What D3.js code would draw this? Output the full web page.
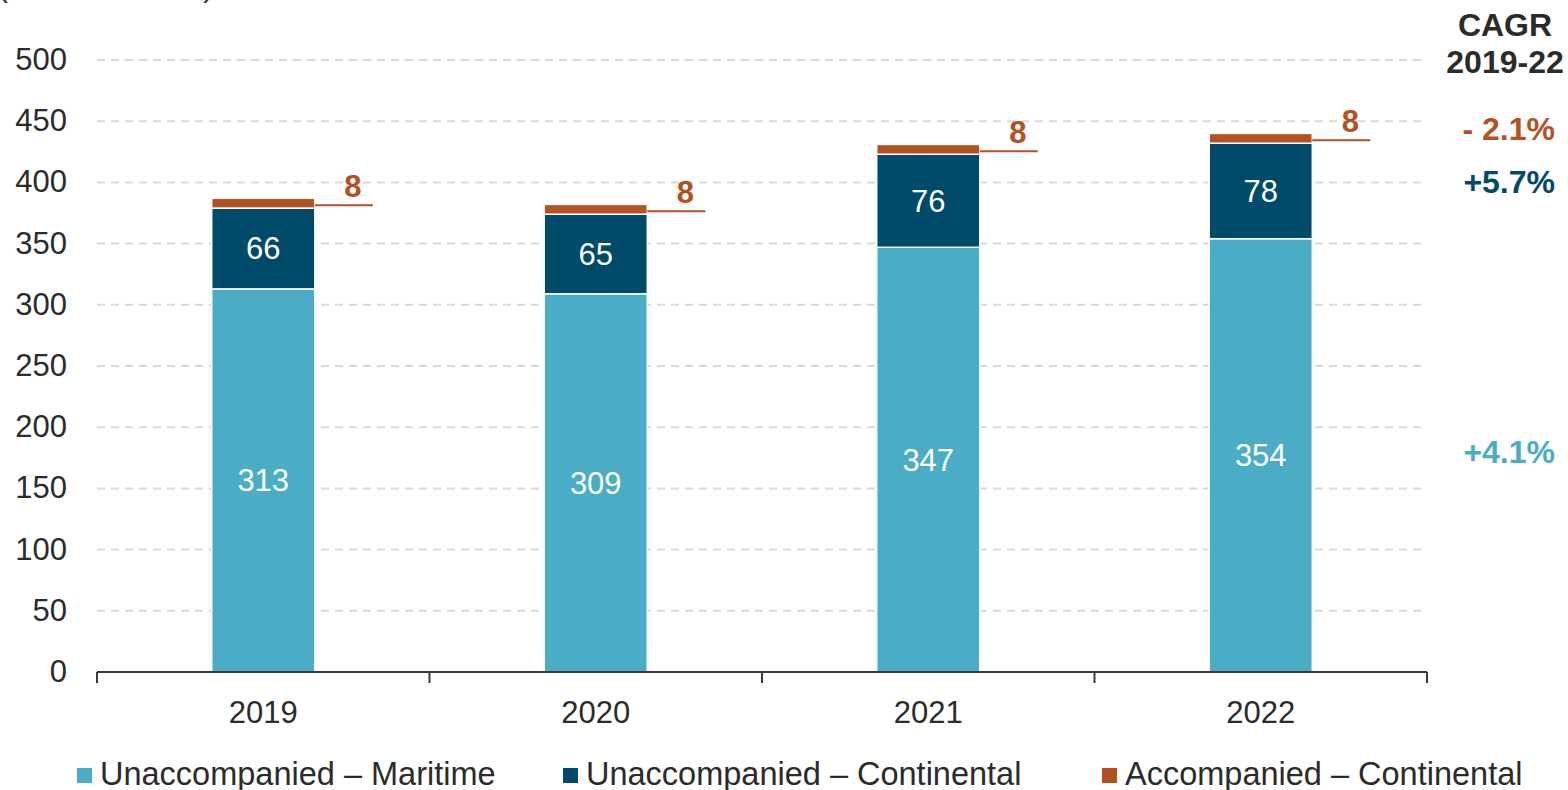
<!DOCTYPE html>
<html>
<head>
<meta charset="utf-8">
<script src="https://cdn.jsdelivr.net/npm/d3@7"></script>
<style>
  html, body { margin: 0; padding: 0; background: #fff; }
  svg { display: block; font-family: "Liberation Sans", Arial, Helvetica, sans-serif; }
</style>
</head>
<body>
<svg id="chart" width="1568" height="790"></svg>
<script>
// Volumes by year, in thousand units
const years = ["2019", "2020", "2021", "2022"];
const maritime = [313, 309, 347, 354];
const continental = [66, 65, 76, 78];
const accompanied = [8, 8, 8, 8];

const seriesNames = ["Unaccompanied – Maritime", "Unaccompanied – Continental", "Accompanied – Continental"];
const yTicks = [0, 50, 100, 150, 200, 250, 300, 350, 400, 450, 500];

// CAGR 2019-22 per series
const cagrHeader = ["CAGR", "2019-22"];
const cagrLabels = ["+4.1%", "+5.7%", "- 2.1%"];

const colors = ["#4BACC6", "#004A6A", "#B5501F"];
const textColor = "#2B2B2B";

const svg = d3.select("#chart");
const x0 = 97, x1 = 1427, yBase = 672, yTop = 60;

const x = d3.scaleBand().domain(years).range([x0, x1]).paddingInner(0).paddingOuter(0);
const y = d3.scaleLinear().domain([0, 500]).range([yBase, yTop]);
const barW = x.bandwidth() * 0.31;

// unit caption, top edge
svg.append("text")
  .attr("x", -2).attr("y", -3)
  .attr("font-size", 30).attr("fill", textColor)
  .text("(thousand units)");

// horizontal dashed grid
svg.append("g")
  .selectAll("line")
  .data(yTicks.filter(d => d > 0))
  .join("line")
  .attr("x1", x0).attr("x2", x1)
  .attr("y1", d => y(d)).attr("y2", d => y(d))
  .attr("stroke", "#D9D9D9").attr("stroke-width", 2)
  .attr("stroke-dasharray", "8,6");

// y tick labels
svg.append("g")
  .selectAll("text")
  .data(yTicks)
  .join("text")
  .attr("x", 67).attr("y", d => y(d) + 10)
  .attr("text-anchor", "end")
  .attr("font-size", 31).attr("fill", textColor)
  .text(d => d);

// stacked bars
const stacked = years.map((yr, i) => {
  const vals = [maritime[i], continental[i], accompanied[i]];
  let cum = 0;
  return vals.map((v, k) => {
    const seg = { year: yr, k, v, y0: cum, y1: cum + v };
    cum += v;
    return seg;
  });
});

const bars = svg.append("g");
stacked.forEach(segs => {
  segs.forEach(s => {
    const cx = x(s.year) + x.bandwidth() / 2;
    bars.append("rect")
      .attr("x", cx - barW / 2)
      .attr("y", y(s.y1))
      .attr("width", barW)
      .attr("height", y(s.y0) - y(s.y1))
      .attr("fill", colors[s.k])
      .attr("stroke", "#fff").attr("stroke-width", 1.5);

    if (s.k < 2) {
      bars.append("text")
        .attr("x", cx)
        .attr("y", (y(s.y0) + y(s.y1)) / 2 + 11)
        .attr("text-anchor", "middle")
        .attr("font-size", 31).attr("fill", "#fff")
        .text(s.v);
    } else {
      // leader line and label for the thin top segment
      const ly = y(s.y0 + s.v * 0.3);
      const right = cx + barW / 2;
      bars.append("line")
        .attr("x1", right).attr("x2", right + 58)
        .attr("y1", ly).attr("y2", ly)
        .attr("stroke", colors[2]).attr("stroke-width", 2);
      bars.append("text")
        .attr("x", right + 38).attr("y", ly - 8)
        .attr("text-anchor", "middle")
        .attr("font-size", 31).attr("font-weight", "bold")
        .attr("fill", colors[2])
        .text(s.v);
    }
  });
});

// x axis with ticks at category boundaries
const axis = svg.append("g");
axis.append("line")
  .attr("x1", x0).attr("x2", x1)
  .attr("y1", yBase).attr("y2", yBase)
  .attr("stroke", "#3A3A3A").attr("stroke-width", 2);
const bounds = years.map(d => x(d)).concat([x1]);
axis.selectAll("line.tick")
  .data(bounds)
  .join("line")
  .attr("class", "tick")
  .attr("x1", d => d).attr("x2", d => d)
  .attr("y1", yBase).attr("y2", yBase + 11)
  .attr("stroke", "#3A3A3A").attr("stroke-width", 2);
axis.selectAll("text")
  .data(years)
  .join("text")
  .attr("x", d => x(d) + x.bandwidth() / 2)
  .attr("y", 723)
  .attr("text-anchor", "middle")
  .attr("font-size", 31).attr("fill", textColor)
  .text(d => d);

// CAGR column
const cagr = svg.append("g").attr("font-weight", "bold").attr("font-size", 32);
cagr.selectAll("text.h")
  .data(cagrHeader)
  .join("text")
  .attr("class", "h")
  .attr("x", 1505).attr("y", (d, i) => 36 + i * 37)
  .attr("text-anchor", "middle").attr("fill", textColor)
  .text(d => d);
const cagrAt = [180, 400, 444];
cagr.selectAll("text.v")
  .data(cagrLabels)
  .join("text")
  .attr("class", "v")
  .attr("x", 1555).attr("y", (d, i) => y(cagrAt[i]) + 11)
  .attr("text-anchor", "end")
  .attr("fill", (d, i) => colors[i])
  .text(d => d);

// legend
const legendX = [77, 563, 1102];
const legend = svg.append("g");
seriesNames.forEach((name, i) => {
  legend.append("rect")
    .attr("x", legendX[i]).attr("y", 768)
    .attr("width", 15).attr("height", 15)
    .attr("fill", colors[i]);
  legend.append("text")
    .attr("x", legendX[i] + 23).attr("y", 785)
    .attr("font-size", 32.5).attr("fill", textColor)
    .text(name);
});
</script>
</body>
</html>
